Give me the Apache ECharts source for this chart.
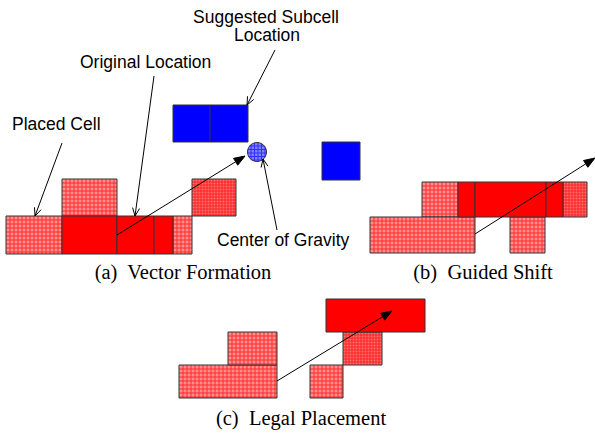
<!DOCTYPE html>
<html><head><meta charset="utf-8">
<script src="https://cdn.jsdelivr.net/npm/echarts@6/dist/echarts.min.js"></script>
<style>html,body{margin:0;padding:0;background:#fff}#c{width:595px;height:434px}</style>
</head><body><div id="c"></div>
<script>
// Rectangles as [x1, y1, x2, y2] in diagram units
var solidRedCells = [
  [62,216,117,254],[117,216,154,254],[154,216,173,254],
  [458,182,475,217],[475,182,546,217],[546,182,563,217],
  [326,299,425,332]
];
var placedCells = [
  [6,216,62,254],[62,179,117,216],[173,216,192,254],
  [422,182,458,217],[370,217,475,253],[510,217,545,253],
  [179,365,277,398],[228,332,277,365],[310,365,343,398]
];
var densePlacedCells = [
  [192,179,236,216],[563,182,587,217],[343,332,382,365]
];
var blueCells = [
  [173,105,210,142],[210,105,248,142],[322,142,360,180]
];
var gravityCenter = [[257,152,9.5]];
var vectorArrows = [
  [117,235,245,156],[475,234,595,158],[277,381,392,311]
];
var pointerArrows = [
  [62,143,35,216],[154,76,135,216],[275,50,247,105],[277,230,263,159]
];
var labelTexts = ['Placed Cell','Original Location','Suggested Subcell','Location','Center of Gravity'];
var labelPos = [[12,124,'left'],[80,62,'left'],[266,17,'center'],[267,35,'center'],[217,240,'left']];
var captionTexts = ['(a)  Vector Formation','(b)  Guided Shift','(c)  Legal Placement'];
var captionPos = [[183,272],[483,272],[301,418]];

function rectItem(fill, stroke){
  return function(params, api){
    var p1 = api.coord([api.value(0), api.value(1)]);
    var p2 = api.coord([api.value(2), api.value(3)]);
    return {type:'rect', shape:{x:p1[0], y:p1[1], width:p2[0]-p1[0], height:p2[1]-p1[1]},
      style:{fill:fill, stroke:stroke, lineWidth:1}};
  };
}
function hatchItem(bg, lineColor, step){
  return function(params, api){
    var p1 = api.coord([api.value(0), api.value(1)]);
    var p2 = api.coord([api.value(2), api.value(3)]);
    var ch = [{type:'rect', shape:{x:p1[0], y:p1[1], width:p2[0]-p1[0], height:p2[1]-p1[1]}, style:{fill:bg, stroke:null}}];
    for (var x = p1[0]+step; x < p2[0]-0.5; x += step)
      ch.push({type:'line', shape:{x1:x, y1:p1[1], x2:x, y2:p2[1]}, style:{stroke:lineColor, lineWidth:1}});
    for (var y = p1[1]+step; y < p2[1]-0.5; y += step)
      ch.push({type:'line', shape:{x1:p1[0], y1:y, x2:p2[0], y2:y}, style:{stroke:lineColor, lineWidth:1}});
    ch.push({type:'rect', shape:{x:p1[0], y:p1[1], width:p2[0]-p1[0], height:p2[1]-p1[1]}, style:{fill:null, stroke:'#333', lineWidth:1}});
    return {type:'group', children:ch};
  };
}
function circleItem(params, api){
  var c = api.coord([api.value(0), api.value(1)]);
  var r = api.coord([api.value(0)+api.value(2), api.value(1)])[0]-c[0];
  var ch = [{type:'circle', shape:{cx:c[0], cy:c[1], r:r}, style:{fill:'#8080ff', stroke:null}}];
  for (var d = -r+3.5; d < r; d += 3.5){
    var h = Math.sqrt(r*r-d*d);
    ch.push({type:'line', shape:{x1:c[0]+d, y1:c[1]-h, x2:c[0]+d, y2:c[1]+h}, style:{stroke:'#3030ff', lineWidth:1}});
    ch.push({type:'line', shape:{x1:c[0]-h, y1:c[1]+d, x2:c[0]+h, y2:c[1]+d}, style:{stroke:'#3030ff', lineWidth:1}});
  }
  ch.push({type:'circle', shape:{cx:c[0], cy:c[1], r:r}, style:{fill:null, stroke:'#333', lineWidth:1}});
  return {type:'group', children:ch};
}
function arrowItem(filled, len, half){
  return function(params, api){
    var a = api.coord([api.value(0), api.value(1)]);
    var b = api.coord([api.value(2), api.value(3)]);
    var dx = b[0]-a[0], dy = b[1]-a[1], L = Math.sqrt(dx*dx+dy*dy);
    var ux = dx/L, uy = dy/L, nx = -uy, ny = ux;
    var bx = b[0]-ux*len, by = b[1]-uy*len;
    var l = [bx+nx*half, by+ny*half], r = [bx-nx*half, by-ny*half];
    var ch = [{type:'line', shape:{x1:a[0], y1:a[1], x2: filled? bx : b[0], y2: filled? by : b[1]}, style:{stroke:'#000', lineWidth:1}}];
    if (filled) ch.push({type:'polygon', shape:{points:[b, l, r]}, style:{fill:'#000', stroke:'#000', lineWidth:1}});
    else ch.push({type:'polyline', shape:{points:[l, b, r]}, style:{fill:null, stroke:'#000', lineWidth:1}});
    return {type:'group', children:ch};
  };
}
function textItem(font, size){
  return function(params, api){
    var p = api.coord([api.value(0), api.value(1)]);
    return {type:'text', x:p[0], y:p[1], style:{text:api.value(3), fill:'#000',
      font: size+'px '+font, align: api.value(2), verticalAlign:'middle'}};
  };
}
var labelData = labelTexts.map(function(t,i){return [labelPos[i][0], labelPos[i][1], labelPos[i][2], t];});
var captionData = captionTexts.map(function(t,i){return [captionPos[i][0], captionPos[i][1], 'center', t];});

var chart = echarts.init(document.getElementById('c'), null, {renderer:'svg'});
chart.setOption({
  animation:false,
  grid:{left:0, right:0, top:0, bottom:0},
  xAxis:{type:'value', min:0, max:595, show:false},
  yAxis:{type:'value', min:0, max:434, inverse:true, show:false},
  series:[
    {type:'custom', renderItem:hatchItem('#ff8f8f','#ff2a2a',4), data:placedCells},
    {type:'custom', renderItem:hatchItem('#ff7070','#ff2020',3), data:densePlacedCells},
    {type:'custom', renderItem:rectItem('#ff0000','#333'), data:solidRedCells},
    {type:'custom', renderItem:rectItem('#0000ff','#333'), data:blueCells},
    {type:'custom', renderItem:circleItem, data:gravityCenter},
    {type:'custom', renderItem:arrowItem(true,11,4), data:vectorArrows},
    {type:'custom', renderItem:arrowItem(false,8,3.5), data:pointerArrows},
    {type:'custom', renderItem:textItem('"Liberation Sans", Arial, sans-serif',17.5), data:labelData,
      dimensions:['x','y','align','text'], encode:{x:0,y:1}},
    {type:'custom', renderItem:textItem('"Liberation Serif", "Times New Roman", serif',20.5), data:captionData,
      dimensions:['x','y','align','text'], encode:{x:0,y:1}}
  ]
});
</script></body></html>
